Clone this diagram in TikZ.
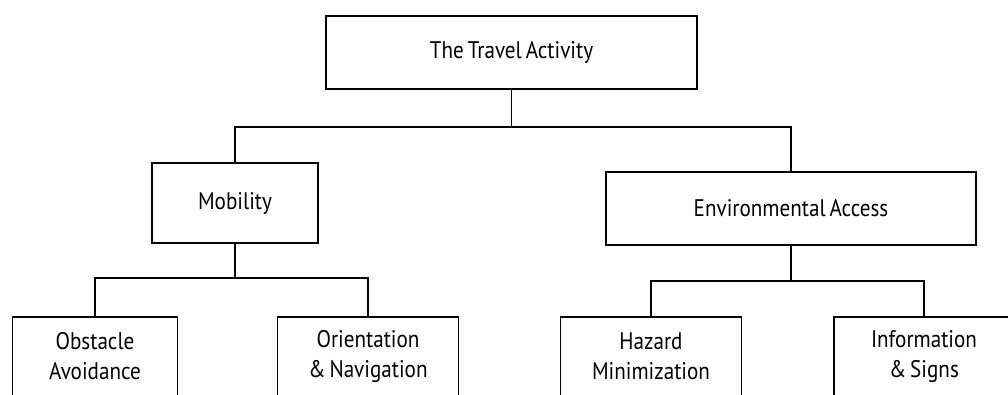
\documentclass[tikz,border=0pt]{standalone}
\usepackage{fontspec}
\setmainfont{PT Sans}[FakeStretch=0.88,WordSpace=0.7]

\begin{document}
\begin{tikzpicture}[x=1pt,y=-1pt,
  box/.style={draw,line width=1.7pt,inner sep=0pt,align=center,
    font=\fontsize{24}{30}\selectfont},
  leaf/.style={box,anchor=north,minimum height=79},
  link/.style={line width=1.7pt}]
\useasboundingbox (0,0) rectangle (1008,394);
\node[box,minimum width=371,minimum height=73] (travel) at (511.5,52.5) {The Travel Activity};
\node[box,minimum width=166,minimum height=80] (mobility) at (235,203) {Mobility};
\node[box,minimum width=370,minimum height=73] (access) at (791,208.5) {Environmental Access};
\node[leaf,minimum width=165] (obstacle) at (95,316) {Obstacle\\Avoidance};
\node[leaf,minimum width=181] (orient) at (368,316) {Orientation\\\& Navigation};
\node[leaf,minimum width=181] (hazard) at (651,316) {Hazard\\Minimization};
\node[leaf,minimum width=180] (info) at (924,316) {Information\\\& Signs};
\coordinate (j0) at (511.5,127);
\coordinate (j1) at (235,278);
\coordinate (j2) at (791,281);
\draw[link] (travel.south) -- (j0) -| (mobility.north);
\draw[link] (j0) -| (access.north);
\draw[link] (mobility.south) -- (j1) -| (obstacle.north);
\draw[link] (j1) -| (orient.north);
\draw[link] (access.south) -- (j2) -| (hazard.north);
\draw[link] (j2) -| (info.north);
\end{tikzpicture}
\end{document}
